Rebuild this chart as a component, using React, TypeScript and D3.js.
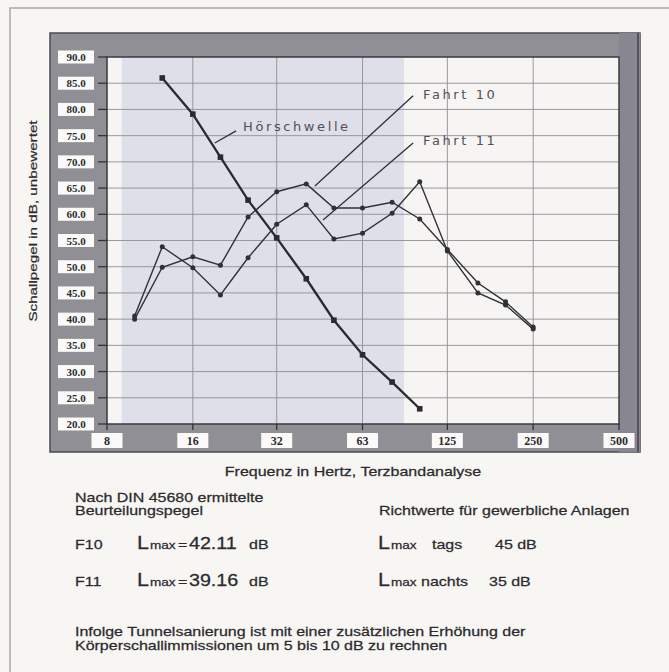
import * as d3 from 'd3';
import type { ReactNode } from 'react';

// Terzband-Mittenfrequenzen (Hz)
const FREQS = [10, 12.5, 16, 20, 25, 31.5, 40, 50, 63, 80, 100, 125, 160, 200, 250];
const FAHRT_10 = [40.0, 49.9, 51.9, 50.3, 59.5, 64.3, 65.8, 61.2, 61.2, 62.3, 59.1, 53.3, 46.9, 43.3, 38.5];
const FAHRT_11 = [40.6, 53.8, 49.8, 44.6, 51.7, 58.1, 61.8, 55.3, 56.4, 60.2, 66.2, 53.0, 45.0, 42.7, 38.1];
const HOER_FREQS = [12.5, 16, 20, 25, 31.5, 40, 50, 63, 80, 100];
const HOERSCHWELLE = [86.0, 79.1, 70.9, 62.7, 55.5, 47.7, 39.8, 33.2, 28.0, 22.9];

const X_TICKS = [8, 16, 31.5, 63, 125, 250, 500];
const X_TICK_LABELS = ['8', '16', '32', '63', '125', '250', '500'];
const Y_TICKS = [20, 25, 30, 35, 40, 45, 50, 55, 60, 65, 70, 75, 80, 85, 90];
const SHADED_RANGE = [9, 88];

// annotation: label anchor and leader line, in data units (Hz, dB)
const ANNOTATIONS = [
    { text: 'Hörschwelle', at: [24.0, 76.5], from: [22.7, 75.9], to: [19.1, 73.6] },
    { text: 'Fahrt 10', at: [102.7, 82.6], from: [94.8, 82.6], to: [42.9, 65.4] },
    { text: 'Fahrt 11', at: [102.7, 73.8], from: [94.8, 73.6], to: [45.8, 58.9] },
];

const W = 669,
    H = 672;
const FRAME = { x0: 50, y0: 33, x1: 640, y1: 452 };
const PLOT = { x0: 107, y0: 57, x1: 619, y1: 424 };
const SANS = '"Liberation Sans", Arial, sans-serif';
const SERIF = '"Liberation Serif", "Times New Roman", serif';
const HAND = '"DejaVu Sans", Verdana, sans-serif';
const INK = '#2b2b2e';
const SX = 1.23; // the scan's lettering is wide

type WideProps = { x: number; y: number; size?: number; anchor?: string; children: ReactNode };

function Wide({ x, y, size = 13, anchor = 'start', children }: WideProps) {
    return (
        <text
            transform={`translate(${x},${y}) scale(${SX},1)`}
            fontSize={size}
            textAnchor={anchor}
            fontFamily={SANS}
            fill={INK}
            stroke={INK}
            strokeWidth={0.25}
        >
            {children}
        </text>
    );
}

export default function App() {
    const x = d3.scaleLog().base(2).domain([8, 500]).range([PLOT.x0, PLOT.x1]);
    const y = d3.scaleLinear().domain([20, 90]).range([PLOT.y1, PLOT.y0]);

    const line = d3
        .line<[number, number]>()
        .x((d) => x(d[0]))
        .y((d) => y(d[1]));

    const f10 = FREQS.map((f, i) => [f, FAHRT_10[i]] as [number, number]);
    const f11 = FREQS.map((f, i) => [f, FAHRT_11[i]] as [number, number]);
    const hs = HOER_FREQS.map((f, i) => [f, HOERSCHWELLE[i]] as [number, number]);

    return (
        <svg width={W} height={H} style={{ position: 'absolute', left: 0, top: 0 }}>
            <rect width={W} height={H} fill="#f8f6f3" />
            {/* outer page border */}
            <path d={`M10,${H} L10,8 L${W},8`} fill="none" stroke="#a9a8ab" strokeWidth={1.5} />

            {/* chart frame */}
            <rect
                x={FRAME.x0}
                y={FRAME.y0}
                width={FRAME.x1 - FRAME.x0}
                height={FRAME.y1 - FRAME.y0}
                fill="#918f96"
                stroke="#4a4a50"
                strokeWidth={1.5}
            />
            <rect x={PLOT.x1} y={FRAME.y0} width={FRAME.x1 - PLOT.x1} height={FRAME.y1 - FRAME.y0} fill="#888791" />
            <line x1={FRAME.x1 - 2} x2={FRAME.x1 - 2} y1={FRAME.y0} y2={FRAME.y1} stroke="#55545c" strokeWidth={2} />

            {/* plot area */}
            <rect x={PLOT.x0} y={PLOT.y0} width={PLOT.x1 - PLOT.x0} height={PLOT.y1 - PLOT.y0} fill="#f7f5f3" />
            <rect
                x={x(SHADED_RANGE[0])}
                y={PLOT.y0}
                width={x(SHADED_RANGE[1]) - x(SHADED_RANGE[0])}
                height={PLOT.y1 - PLOT.y0}
                fill="#dfdfe9"
            />

            {/* grid */}
            {Y_TICKS.slice(1, -1).map((t) => (
                <line key={'gy' + t} x1={PLOT.x0} x2={PLOT.x1} y1={y(t)} y2={y(t)} stroke="#8f8e94" strokeWidth={0.9} />
            ))}
            {X_TICKS.slice(1, -1).map((t) => (
                <line key={'gx' + t} x1={x(t)} x2={x(t)} y1={PLOT.y0} y2={PLOT.y1} stroke="#8f8e94" strokeWidth={0.9} />
            ))}
            <rect
                x={PLOT.x0}
                y={PLOT.y0}
                width={PLOT.x1 - PLOT.x0}
                height={PLOT.y1 - PLOT.y0}
                fill="none"
                stroke="#3a3a40"
                strokeWidth={1.5}
            />

            {/* y axis ticks + boxed labels */}
            {Y_TICKS.map((t) => (
                <g key={'y' + t} transform={`translate(0,${y(t)})`}>
                    <line x1={98} x2={PLOT.x0} stroke="#333" strokeWidth={1.3} />
                    <rect x={58} y={-6.5} width={36} height={13} fill="#fbfaf8" />
                    <text
                        x={76}
                        y={4}
                        textAnchor="middle"
                        fontFamily={SERIF}
                        fontWeight="bold"
                        fontSize={11}
                        fill={INK}
                    >
                        {t.toFixed(1)}
                    </text>
                </g>
            ))}

            {/* x axis ticks + boxed labels */}
            {X_TICKS.map((t, i) => (
                <g key={'x' + t} transform={`translate(${x(t)},0)`}>
                    <line y1={PLOT.y1} y2={PLOT.y1 + 6} stroke="#333" strokeWidth={1.3} />
                    <rect x={-15.5} y={433} width={31} height={15} fill="#fbfaf8" />
                    <text
                        y={445}
                        textAnchor="middle"
                        fontFamily={SERIF}
                        fontWeight="bold"
                        fontSize={12}
                        fill={INK}
                    >
                        {X_TICK_LABELS[i]}
                    </text>
                </g>
            ))}

            {/* series */}
            <path d={line(f10) ?? ''} fill="none" stroke="#303036" strokeWidth={1.4} />
            <path d={line(f11) ?? ''} fill="none" stroke="#303036" strokeWidth={1.4} />
            {[...f10, ...f11].map((d, i) => (
                <circle key={'p' + i} cx={x(d[0])} cy={y(d[1])} r={2.5} fill="#303036" />
            ))}
            <path d={line(hs) ?? ''} fill="none" stroke="#2a2a30" strokeWidth={2.3} />
            {hs.map((d, i) => (
                <rect key={'h' + i} x={x(d[0]) - 2.8} y={y(d[1]) - 2.8} width={5.6} height={5.6} fill="#2a2a30" />
            ))}

            {/* annotations */}
            {ANNOTATIONS.map((a) => (
                <g key={a.text}>
                    <line
                        x1={x(a.from[0])}
                        y1={y(a.from[1])}
                        x2={x(a.to[0])}
                        y2={y(a.to[1])}
                        stroke="#303036"
                        strokeWidth={1.3}
                    />
                    <text
                        x={x(a.at[0])}
                        y={y(a.at[1])}
                        dominantBaseline="middle"
                        fontFamily={HAND}
                        fontSize={13}
                        letterSpacing={2.6}
                        fill="#505056"
                    >
                        {a.text}
                    </text>
                </g>
            ))}

            {/* axis titles */}
            <text
                transform="translate(37,221) rotate(-90) scale(1.45,1)"
                textAnchor="middle"
                fontFamily={SANS}
                fontSize={10.5}
                fill={INK}
                stroke={INK}
                strokeWidth={0.2}
            >
                Schallpegel in dB, unbewertet
            </text>
            <Wide x={353} y={476} anchor="middle">
                Frequenz in Hertz, Terzbandanalyse
            </Wide>

            {/* notes */}
            <Wide x={75} y={502}>Nach DIN 45680 ermittelte</Wide>
            <Wide x={75} y={515}>Beurteilungspegel</Wide>
            <Wide x={379} y={515}>Richtwerte für gewerbliche Anlagen</Wide>

            <Wide x={75} y={549}>F10</Wide>
            <Wide x={137} y={549} size={17.5}>L</Wide>
            <Wide x={150} y={549} size={11}>max</Wide>
            <Wide x={178} y={549}>=</Wide>
            <Wide x={189} y={549} size={16}>42.11</Wide>
            <Wide x={249} y={549}>dB</Wide>
            <Wide x={378} y={549} size={17.5}>L</Wide>
            <Wide x={391} y={549} size={11}>max</Wide>
            <Wide x={432} y={549}>tags</Wide>
            <Wide x={495} y={549}>45 dB</Wide>

            <Wide x={75} y={586}>F11</Wide>
            <Wide x={137} y={586} size={17.5}>L</Wide>
            <Wide x={150} y={586} size={11}>max</Wide>
            <Wide x={178} y={586}>=</Wide>
            <Wide x={189} y={586} size={16}>39.16</Wide>
            <Wide x={249} y={586}>dB</Wide>
            <Wide x={378} y={586} size={17.5}>L</Wide>
            <Wide x={391} y={586} size={11}>max</Wide>
            <Wide x={421} y={586}>nachts</Wide>
            <Wide x={489} y={586}>35 dB</Wide>

            <Wide x={75} y={636}>Infolge Tunnelsanierung ist mit einer zusätzlichen Erhöhung der</Wide>
            <Wide x={75} y={650}>Körperschallimmissionen um 5 bis 10 dB zu rechnen</Wide>
        </svg>
    );
}
